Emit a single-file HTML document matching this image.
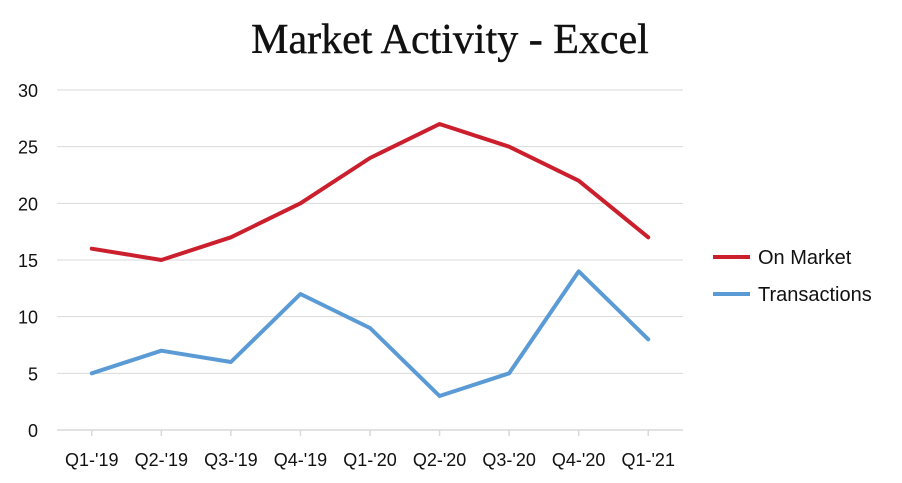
<!DOCTYPE html>
<html><head><meta charset="utf-8"><style>
body{margin:0;background:#fff;}
svg{display:block;font-family:"Liberation Sans","DejaVu Sans",sans-serif;}
</style></head><body>
<svg width="902" height="483">
<text x="450" y="53" text-anchor="middle" font-family="Liberation Serif, serif" font-size="42" fill="#111" stroke="#111" stroke-width="0.4">Market Activity - Excel</text>
<g id="grid"></g>
<g id="axes"></g>
<g id="series"></g>
<g>
<g><line x1="713" y1="257" x2="750" y2="257" stroke="#cc1f2d" stroke-width="4"/><text x="758" y="264" font-size="20" fill="#111">On Market</text></g>
<g><line x1="713" y1="294" x2="750" y2="294" stroke="#5b9bd5" stroke-width="4"/><text x="758" y="301" font-size="20" fill="#111">Transactions</text></g>
</g>
</svg>
<script>
const categories=["Q1-'19","Q2-'19","Q3-'19","Q4-'19","Q1-'20","Q2-'20","Q3-'20","Q4-'20","Q1-'21"];
const onMarket=[16,15,17,20,24,27,25,22,17];
const transactions=[5,7,6,12,9,3,5,14,8];
const yTicks=[0,5,10,15,20,25,30];
const L=57,R=683,T=90,B=430,yMax=30;
const bw=(R-L)/categories.length;
const x=i=>L+bw*(i+0.5);
const y=v=>B-(v/yMax)*(B-T);
const NS="http://www.w3.org/2000/svg";
function mk(tag,attrs,parent){const e=document.createElementNS(NS,tag);for(const k in attrs)e.setAttribute(k,attrs[k]);parent.appendChild(e);return e;}
const grid=document.getElementById('grid'),axes=document.getElementById('axes'),series=document.getElementById('series');
yTicks.forEach(t=>{
 if(t>0){const g=mk('line',{x1:L,x2:R,y1:y(t),y2:y(t),stroke:'#d9d9d9','stroke-width':1},grid);
 
 }
 const tx=mk('text',{x:38,y:y(t)+7,'text-anchor':'end','font-size':18,fill:'#111'},axes);
 tx.textContent=t;
 
 
});
const ax=mk('line',{x1:L,x2:R,y1:B,y2:B,stroke:'#d9d9d9','stroke-width':1.5},axes);


categories.forEach((c,i)=>{
 const tk=mk('line',{x1:x(i),x2:x(i),y1:B,y2:B+6,stroke:'#d9d9d9','stroke-width':1.5},axes);
 
 
 const tx=mk('text',{x:x(i),y:B+36,'text-anchor':'middle','font-size':18,fill:'#111'},axes);
 tx.textContent=c;
 
 
});
function line(vals,color,name){
 const p=mk('polyline',{points:vals.map((v,i)=>x(i)+','+y(v)).join(' '),fill:'none',stroke:color,'stroke-width':4,'stroke-linejoin':'round','stroke-linecap':'round'},series);
 
 
}
line(onMarket,'#cc1f2d','on-market-line');
line(transactions,'#5b9bd5','transactions-line');
</script>
</body></html>
